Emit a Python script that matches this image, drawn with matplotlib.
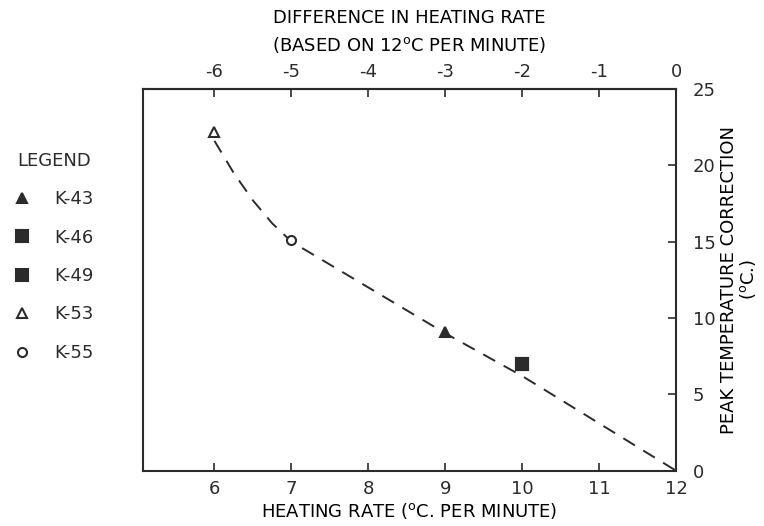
import matplotlib
matplotlib.use("Agg")
import matplotlib.pyplot as plt
from matplotlib.ticker import FixedLocator

# ---- data ----
samples = ["K-43", "K-46", "K-49", "K-53", "K-55"]
rate_pts = [9.0, 10.0, 10.0, 6.0, 7.0]          # heating rate (°C per minute)
corr_pts = [9.1, 7.0, 7.0, 22.2, 15.1]          # peak temperature correction (°C)
markers = ["^", "s", "s", "^", "o"]
filled = [True, True, True, False, False]

curve_rate = [6.0, 6.25, 6.5, 6.75, 7.0, 7.5, 8.0, 9.0, 10.0, 11.0, 12.0]
curve_corr = [21.6, 19.5, 17.7, 16.2, 15.0, 13.5, 12.0, 9.0, 6.2, 3.1, 0.0]

bottom_ticks = [6, 7, 8, 9, 10, 11, 12]
top_ticks = [-6, -5, -4, -3, -2, -1, 0]
right_ticks = [0, 5, 10, 15, 20, 25]

INK = "#2b2b2b"
FS = 13
plt.rcParams["font.family"] = ["DejaVu Sans"]
plt.rcParams["text.color"] = INK
plt.rcParams["axes.edgecolor"] = INK
plt.rcParams["xtick.color"] = INK
plt.rcParams["ytick.color"] = INK
plt.rcParams["mathtext.default"] = "regular"

fig = plt.figure(figsize=(7.64, 5.26), dpi=100)
ax = fig.add_axes([0.187, 0.105, 0.698, 0.726])

ax.plot(curve_rate, curve_corr, color=INK, lw=1.4, dashes=(7, 5))

handles = []
for name, x, y, m, f in zip(samples, rate_pts, corr_pts, markers, filled):
    size = {"^": 6.5, "s": 8.5, "o": 6.5}[m]
    h, = ax.plot([x], [y], linestyle="none", marker=m, markersize=size,
                 markerfacecolor=INK if f else "white", markeredgecolor=INK,
                 markeredgewidth=1.5, label=name)
    handles.append(h)

ax.set_xlim(5.07, 12.0)
ax.set_ylim(0, 25)

ax.xaxis.set_major_locator(FixedLocator(bottom_ticks))
ax.set_xticklabels([str(t) for t in bottom_ticks])
ax.yaxis.tick_right()
ax.yaxis.set_label_position("right")
ax.yaxis.set_major_locator(FixedLocator(right_ticks))
ax.tick_params(axis="both", direction="in", length=6, width=1.2, labelsize=FS)
ax.tick_params(axis="x", pad=7)
ax.tick_params(axis="y", pad=12, right=True, left=False)
for s in ax.spines.values():
    s.set_linewidth(1.5)

ax.set_xlabel("HEATING RATE ($^{o}$C. PER MINUTE)", fontsize=FS, labelpad=2)
ax.set_ylabel("PEAK TEMPERATURE CORRECTION\n($^{o}$C.)", fontsize=FS,
              linespacing=1.0)
ax.yaxis.set_label_coords(1.083, 0.5)

sec = ax.secondary_xaxis("top", functions=(lambda x: x - 12, lambda x: x + 12))
sec.xaxis.set_major_locator(FixedLocator(top_ticks))
sec.set_xticklabels([str(t) for t in top_ticks])
sec.tick_params(direction="in", length=6, width=1.2, labelsize=FS, pad=6)
sec.spines["top"].set_linewidth(1.5)
sec.set_xlabel("DIFFERENCE IN HEATING RATE\n(BASED ON 12$^{o}$C PER MINUTE)",
               fontsize=FS, labelpad=8, linespacing=1.55)

leg = fig.legend(handles=handles, labels=samples, loc="upper left",
                 bbox_to_anchor=(0.01, 0.725), frameon=False, title="LEGEND",
                 fontsize=FS, title_fontsize=FS, handlelength=0.8,
                 handletextpad=1.4, labelspacing=1.13, borderaxespad=0)
leg._legend_box.align = "center"

fig.savefig("out.png", dpi=100)
